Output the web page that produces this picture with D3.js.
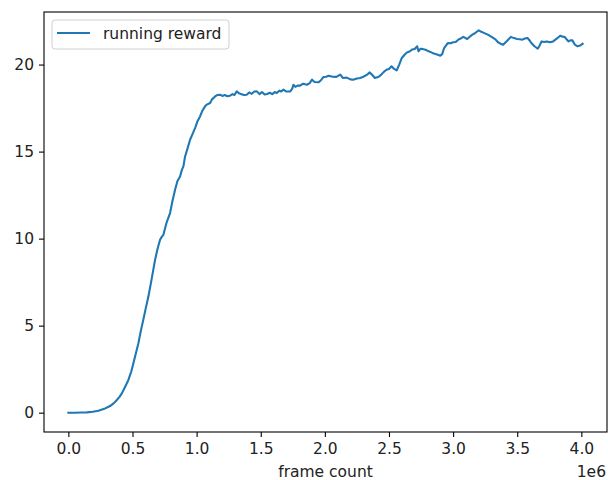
<!DOCTYPE html>
<html><head><meta charset="utf-8">
<script src="https://cdn.jsdelivr.net/npm/d3@7"></script>
<style>body{margin:0;background:#fff}svg{display:block}text{font-family:"DejaVu Sans",sans-serif}</style>
</head><body><svg id="c" width="608" height="480"></svg>
<script>
const frames = [0.00,0.05,0.10,0.144,0.19,0.234,0.28,0.325,0.355,0.378,0.40,0.417,0.44,0.468,0.49,0.507,0.526,0.546,0.565,0.585,0.605,0.624,0.65,0.676,0.695,0.715,0.728,0.741,0.765,0.793,0.81,0.832,0.85,0.871,0.885,0.897,0.91,0.93,0.949,0.968,0.988,1.007,1.027,1.045,1.066,1.08,1.105,1.12,1.144,1.16,1.183,1.20,1.22,1.24,1.261,1.28,1.295,1.313,1.33,1.35,1.37,1.39,1.41,1.43,1.45,1.47,1.49,1.51,1.53,1.55,1.57,1.59,1.61,1.625,1.645,1.66,1.677,1.70,1.73,1.745,1.755,1.77,1.79,1.807,1.83,1.86,1.88,1.9,1.92,1.95,1.97,1.99,2.01,2.03,2.06,2.09,2.12,2.14,2.17,2.2,2.22,2.25,2.275,2.30,2.33,2.35,2.37,2.39,2.42,2.44,2.46,2.48,2.50,2.52,2.54,2.56,2.58,2.60,2.62,2.64,2.66,2.68,2.70,2.72,2.73,2.745,2.76,2.785,2.81,2.83,2.85,2.875,2.90,2.915,2.93,2.945,2.96,2.98,3.0,3.02,3.04,3.06,3.08,3.11,3.13,3.15,3.17,3.2,3.22,3.24,3.27,3.3,3.33,3.35,3.37,3.39,3.42,3.45,3.475,3.5,3.52,3.54,3.56,3.58,3.595,3.61,3.635,3.66,3.675,3.69,3.71,3.73,3.755,3.78,3.81,3.835,3.855,3.87,3.885,3.9,3.915,3.93,3.95,3.97,3.99,4.01];
const rewards = [0.00,0.00,0.01,0.02,0.05,0.11,0.22,0.38,0.55,0.73,0.92,1.11,1.45,1.88,2.35,2.84,3.4,3.99,4.7,5.36,6.05,6.67,7.7,8.78,9.4,9.93,10.1,10.22,10.9,11.47,12.1,12.81,13.3,13.57,13.95,14.15,14.72,15.2,15.68,16.0,16.35,16.75,17.02,17.35,17.6,17.7,17.79,18.0,18.17,18.25,18.27,18.2,18.25,18.18,18.21,18.3,18.25,18.46,18.35,18.3,18.25,18.27,18.4,18.32,18.45,18.46,18.3,18.42,18.28,18.31,18.38,18.3,18.42,18.37,18.5,18.45,18.56,18.45,18.46,18.6,18.84,18.72,18.8,18.79,18.9,18.84,18.92,19.13,19.0,18.98,19.1,19.29,19.3,19.36,19.3,19.29,19.42,19.23,19.25,19.15,19.13,19.2,19.23,19.3,19.42,19.55,19.4,19.23,19.3,19.42,19.58,19.7,19.75,19.9,19.75,19.67,20.0,20.38,20.55,20.7,20.75,20.86,20.9,21.05,20.76,20.9,20.9,20.85,20.76,20.7,20.63,20.58,20.51,20.6,20.95,21.1,21.24,21.22,21.28,21.3,21.43,21.5,21.59,21.47,21.6,21.72,21.8,21.97,21.88,21.82,21.72,21.59,21.45,21.28,21.2,21.14,21.35,21.59,21.52,21.47,21.45,21.43,21.5,21.53,21.4,21.24,21.05,20.91,21.1,21.33,21.3,21.33,21.28,21.33,21.5,21.66,21.6,21.59,21.45,21.33,21.39,21.39,21.14,21.05,21.09,21.2];
const xTicks = [0,0.5,1.0,1.5,2.0,2.5,3.0,3.5,4.0];
const yTicks = [0,5,10,15,20];
const seriesName = "running reward";
const xLabel = "frame count";
const xExponent = "1e6";

const svg = d3.select("#c");
const L=44, R=607, T=12, B=432;
const x = d3.scaleLinear().domain([-0.19,4.2]).range([L,R]);
const y = d3.scaleLinear().domain([-1.11,23.02]).range([B,T]);
const fs = 15.5;

// line
const data = frames.map((f,i)=>[f,rewards[i]]);
svg.append("path").datum(data)
  .attr("fill","none").attr("stroke","#1f77b4").attr("stroke-width",2.1)
  .attr("stroke-linejoin","round").attr("stroke-linecap","square")
  .attr("d", d3.line().x(d=>x(d[0])).y(d=>y(d[1])));

// axes
const xa = svg.append("g").attr("transform",`translate(0,${B})`)
  .call(d3.axisBottom(x).tickValues(xTicks).tickFormat(d3.format(".1f")).tickSize(5).tickPadding(6));
const ya = svg.append("g").attr("transform",`translate(${L},0)`)
  .call(d3.axisLeft(y).tickValues(yTicks).tickFormat(d3.format("d")).tickSize(5).tickPadding(5));
[xa,ya].forEach(g=>{
  g.select(".domain").remove();
  g.selectAll(".tick line").attr("stroke","#000").attr("stroke-width",1.1);
  g.selectAll(".tick text").attr("fill","#222").style("font-size",fs+"px").style("font-family","DejaVu Sans");
});

// spines
svg.append("rect").attr("x",L).attr("y",T).attr("width",R-L).attr("height",B-T)
  .attr("fill","none").attr("stroke","#000").attr("stroke-width",1.1);

// labels
svg.append("text").attr("x",(L+R)/2).attr("y",477).attr("text-anchor","middle")
  .style("font-size",fs+"px").attr("fill","#222").text(xLabel);
svg.append("text").attr("x",606).attr("y",476.5).attr("text-anchor","end")
  .style("font-size",fs+"px").attr("fill","#222").text(xExponent);

// legend
const lg = svg.append("g");
lg.append("rect").attr("x",52).attr("y",20).attr("width",177).attr("height",29).attr("rx",3)
  .attr("fill","#fff").attr("fill-opacity",0.8).attr("stroke","#d0d0d0").attr("stroke-width",1);
lg.append("line").attr("x1",57).attr("x2",90).attr("y1",33).attr("y2",33)
  .attr("stroke","#1f77b4").attr("stroke-width",2.1);
lg.append("text").attr("x",103).attr("y",38.5).style("font-size",fs+"px").attr("fill","#222").text(seriesName);
</script></body></html>
